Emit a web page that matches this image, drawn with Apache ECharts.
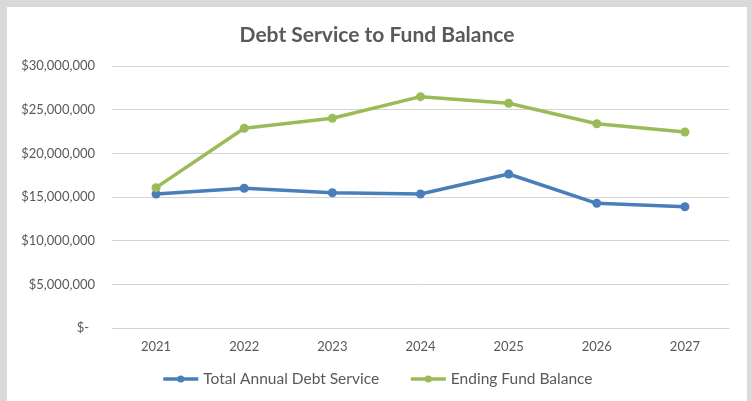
<!DOCTYPE html>
<html>
<head>
<meta charset="utf-8">
<script src="https://cdn.jsdelivr.net/npm/echarts@6/dist/echarts.min.js"></script>
<style>
html,body{margin:0;padding:0;background:#d9d9d9;width:752px;height:401px;overflow:hidden;}
#chart{position:absolute;left:7px;top:7px;width:740px;height:394px;background:#ffffff;}
</style>
</head>
<body>
<div id="chart"></div>
<script>
const titleText = 'Debt Service to Fund Balance';
const years = ['2021', '2022', '2023', '2024', '2025', '2026', '2027'];
const debtServiceName = 'Total Annual Debt Service';
const debtService = [15340000, 16000000, 15490000, 15340000, 17630000, 14280000, 13890000];
const fundBalanceName = 'Ending Fund Balance';
const fundBalance = [16070000, 22870000, 24010000, 26490000, 25730000, 23390000, 22440000];
const yTicks = [0, 5000000, 10000000, 15000000, 20000000, 25000000, 30000000];

const chart = echarts.init(document.getElementById('chart'), null, {renderer: 'canvas'});
const txt = '#595959';
const fontFam = 'Lato, "Open Sans", sans-serif';
chart.setOption({
  animation: false,
  textStyle: {fontFamily: fontFam},
  title: {
    text: titleText,
    left: 'center',
    top: 13,
    textStyle: {color: txt, fontSize: 21, fontWeight: 'bold', fontFamily: fontFam}
  },
  legend: {
    bottom: 9,
    left: 'center',
    itemWidth: 35,
    itemHeight: 9,
    itemGap: 30,
    lineStyle: {width: 3.5},
    textStyle: {color: txt, fontSize: 15.5, fontFamily: fontFam},
    data: [debtServiceName, fundBalanceName]
  },
  grid: {left: 105, right: 18, top: 59, bottom: 73, containLabel: false},
  xAxis: {
    type: 'category',
    data: years,
    boundaryGap: true,
    axisLine: {lineStyle: {color: '#d4d4d4', width: 1}},
    axisTick: {show: false},
    axisLabel: {color: txt, fontSize: 13, margin: 12, fontFamily: fontFam}
  },
  yAxis: {
    type: 'value',
    min: yTicks[0],
    max: yTicks[yTicks.length - 1],
    interval: yTicks[1] - yTicks[0],
    axisLine: {show: false},
    axisTick: {show: false},
    splitLine: {lineStyle: {color: '#d4d4d4', width: 1}},
    axisLabel: {
      color: txt, fontSize: 13, margin: 17, fontFamily: fontFam,
      formatter: function (v) {
        if (v === 0) return '{z|$-}';
        return '$' + v.toLocaleString('en-US');
      },
      rich: {z: {color: txt, fontSize: 13, fontFamily: fontFam, padding: [0, 6, 0, 0]}}
    }
  },
  series: [
    {
      name: debtServiceName,
      type: 'line',
      data: debtService,
      symbol: 'circle',
      symbolSize: 9,
      lineStyle: {color: '#4a7ebb', width: 3.5},
      itemStyle: {color: '#4a7ebb'}
    },
    {
      name: fundBalanceName,
      type: 'line',
      data: fundBalance,
      symbol: 'circle',
      symbolSize: 9,
      lineStyle: {color: '#9bbb59', width: 3.5},
      itemStyle: {color: '#9bbb59'}
    }
  ]
});
</script>
</body>
</html>
